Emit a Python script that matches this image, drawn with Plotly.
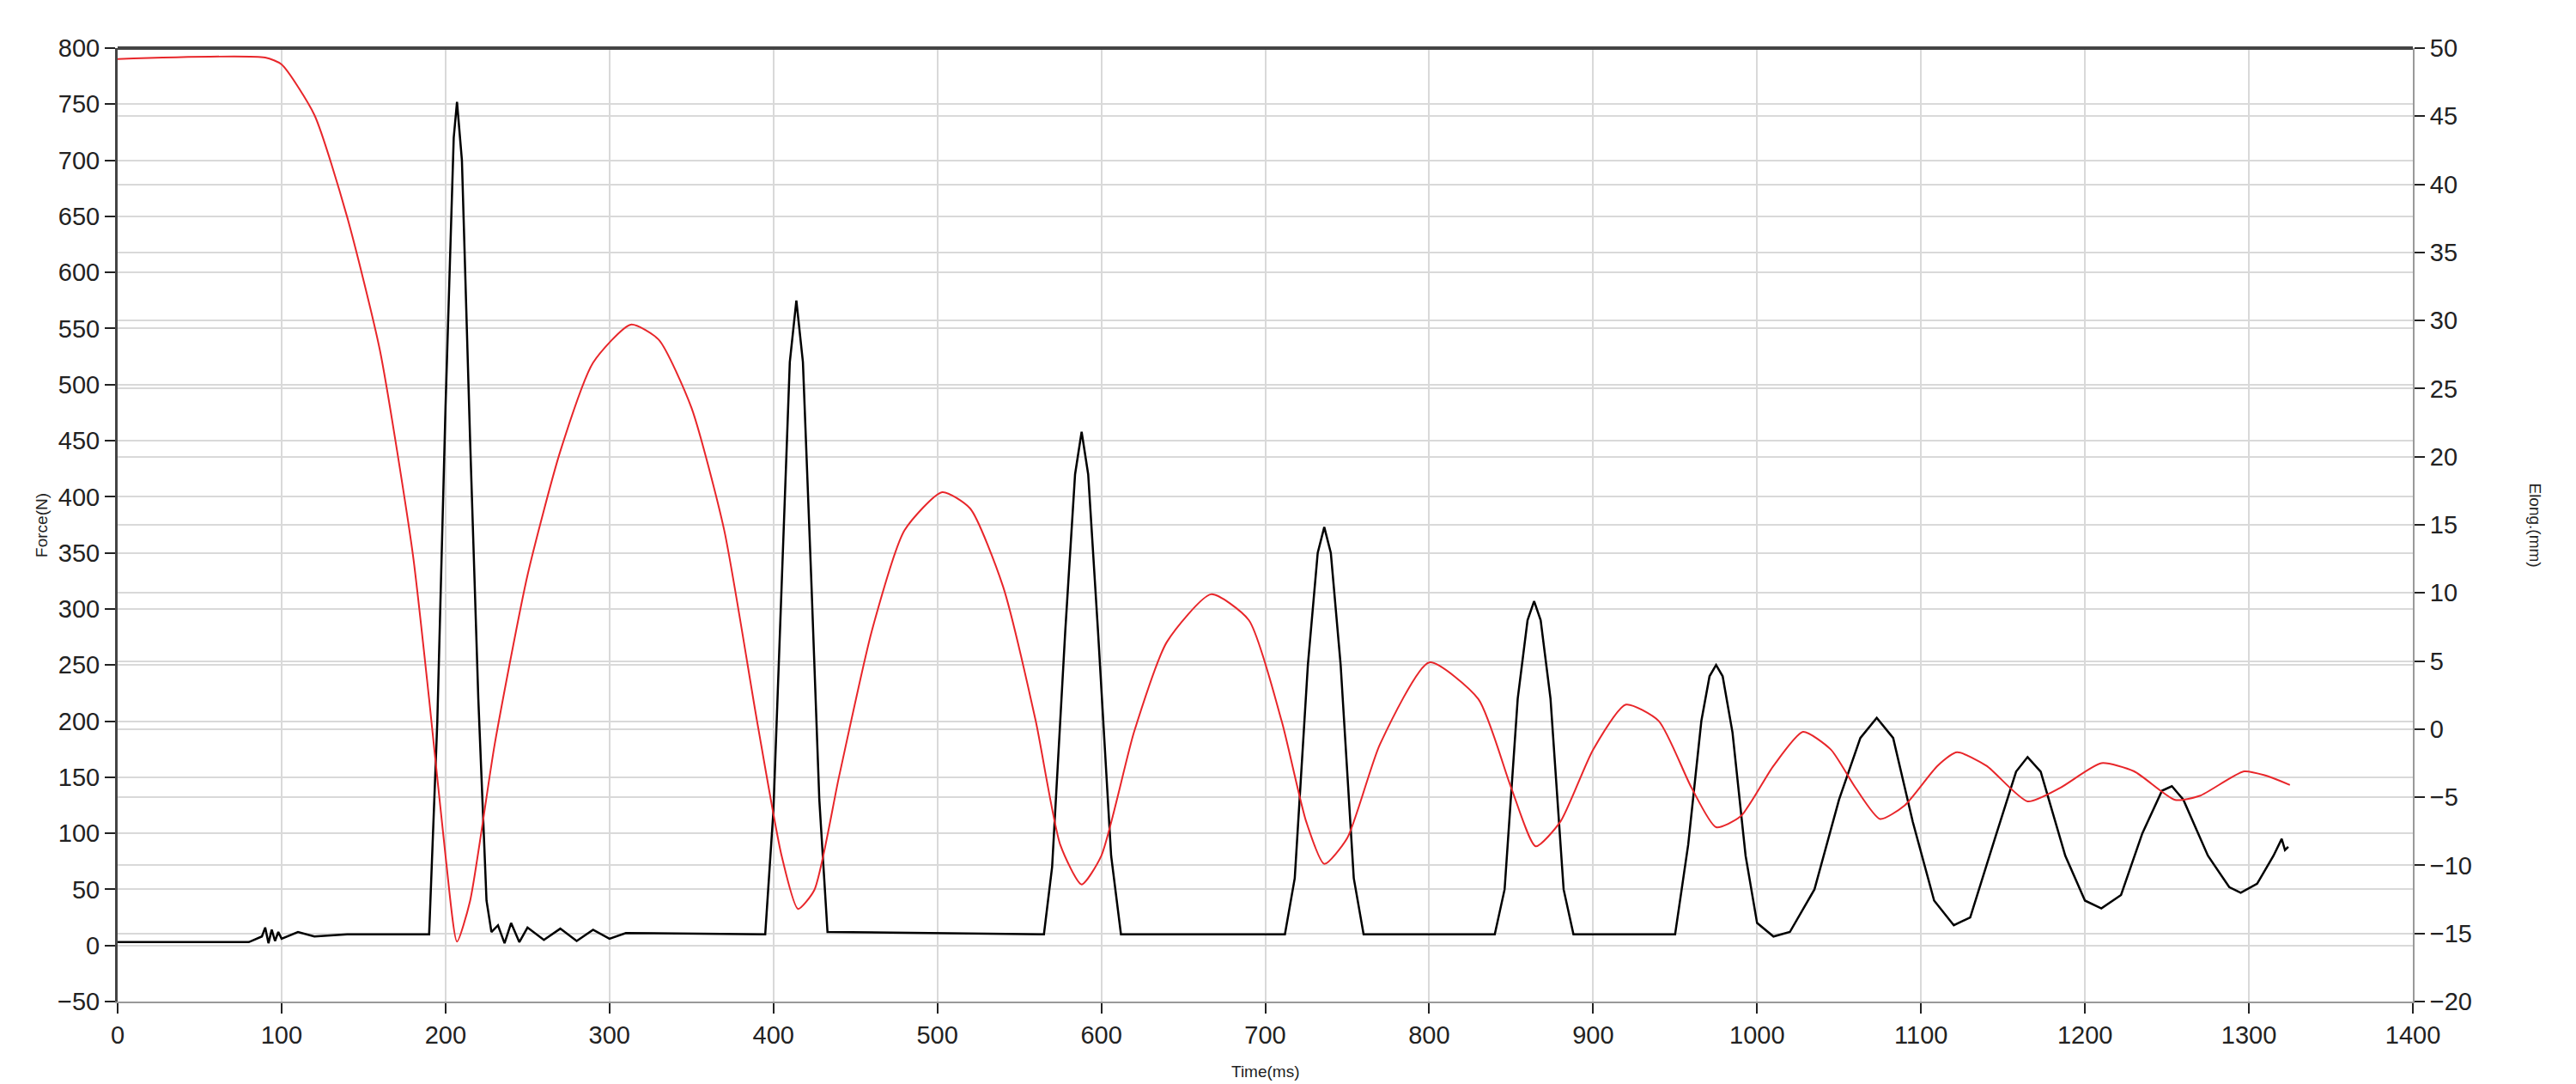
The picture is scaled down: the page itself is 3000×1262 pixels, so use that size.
import plotly.graph_objects as go

# black trace: force (N), left axis
force_t = [0, 80, 88, 90, 92, 94, 96, 98, 100, 110, 120, 140, 185, 190, 195, 200, 205, 207, 210, 215, 220, 225, 228,
           232, 236, 240, 245, 250, 260, 270, 280, 290, 300, 310, 395, 400, 405, 410, 414, 418, 423, 428, 433,
           565, 570, 578, 584, 588, 592, 598, 606, 612, 712, 718, 726, 732, 736, 740, 746, 754, 760,
           840, 846, 854, 860, 864, 868, 874, 882, 888, 950, 958, 966, 971, 975, 979, 985, 993, 1000, 1010,
           1020, 1035, 1050, 1063, 1073, 1083, 1095, 1108, 1120, 1130, 1145, 1158, 1165, 1173, 1188, 1200,
           1210, 1222, 1235, 1247, 1253, 1260, 1275, 1288, 1295, 1305, 1315, 1320, 1322, 1324]
force_v = [3, 3, 8, 16, 2, 14, 4, 12, 6, 12, 8, 10, 10, 10, 200, 480, 720, 752, 700, 450, 220, 40, 12,
           18, 2, 20, 3, 16, 5, 15, 4, 14, 6, 11, 10, 120, 320, 520, 575, 520, 330, 130, 12,
           10, 70, 280, 420, 458, 420, 280, 80, 10, 10, 60, 250, 350, 373, 350, 250, 60, 10,
           10, 50, 220, 290, 307, 290, 220, 50, 10, 10, 90, 200, 240, 250, 240, 190, 80, 20, 8,
           12, 50, 130, 185, 203, 185, 110, 40, 18, 25, 95, 155, 168, 155, 80, 40,
           33, 45, 100, 138, 142, 130, 80, 52, 47, 55, 80, 95, 85, 88]

# red trace: elongation (mm), right axis
elong_t = [0, 90, 100, 120, 140, 160, 180, 190, 200, 207, 215, 230, 250, 270, 290, 313, 330, 350, 370, 390, 405,
           415, 425, 440, 460, 480, 503, 520, 540, 560, 575, 588, 600, 620, 640, 667, 690, 710, 725, 736, 750,
           770, 800, 830, 850, 865, 880, 900, 920, 940, 960, 975, 990, 1010, 1028, 1045, 1060, 1075, 1090,
           1110, 1122, 1140, 1165, 1185, 1210, 1230, 1255, 1270, 1297, 1310, 1325]
elong_v = [49.2, 49.3, 48.8, 45.1, 37.6, 27.8, 12.9, 2.2, -9.3, -15.6, -12.6, -1.1, 11.3, 20.4, 26.9, 29.7, 28.6,
           23.6, 14.6, 0.6, -9.3, -13.2, -11.8, -3.5, 7.2, 14.6, 17.4, 16.2, 10.5, 0.6, -8.5, -11.4, -9.3, -0.2,
           6.4, 9.9, 8.0, 0.6, -6.8, -9.9, -8.0, -1.1, 4.9, 2.2, -4.3, -8.6, -6.8, -1.5, 1.8, 0.6, -4.3, -7.2,
           -6.4, -2.7, -0.2, -1.5, -4.3, -6.6, -5.6, -2.7, -1.7, -2.7, -5.3, -4.3, -2.5, -3.1, -5.2, -4.9,
           -3.1, -3.4, -4.1]

font = "Liberation Sans, Arial, sans-serif"
grid = "#d9d9d9"

fig = go.Figure()
fig.add_trace(go.Scatter(x=elong_t, y=elong_v, yaxis="y2", mode="lines",
                         line=dict(color="#e8262a", width=2, shape="spline", smoothing=0.6)))
fig.add_trace(go.Scatter(x=force_t, y=force_v, mode="lines", line=dict(color="black", width=2.5)))

fig.update_layout(
    width=3000, height=1262, showlegend=False,
    paper_bgcolor="white", plot_bgcolor="white",
    margin=dict(l=129, r=198, t=48, b=104),
    font=dict(family=font, size=29, color="#222"),
    xaxis=dict(range=[0, 1400], dtick=100, showgrid=True, gridcolor=grid, gridwidth=2,
               ticks="outside", ticklen=12, tickwidth=2, tickcolor="#222",
               showline=True, linecolor="#999", linewidth=2, zeroline=False),
    yaxis=dict(range=[-50, 800], dtick=50, showgrid=True, gridcolor=grid, gridwidth=2,
               ticks="outside", ticklen=12, tickwidth=2, tickcolor="#222",
               showline=True, linecolor="#444", linewidth=3, zeroline=False),
    yaxis2=dict(range=[-20, 50], dtick=5, overlaying="y", side="right", showgrid=True,
                gridcolor=grid, gridwidth=2, ticks="outside", ticklen=12, tickwidth=2, tickcolor="#222",
                showline=True, linecolor="#999", linewidth=2, zeroline=False),
    shapes=[dict(type="line", xref="paper", yref="paper", x0=0, x1=1, y0=1, y1=1,
                 line=dict(color="#444", width=4))],
    annotations=[
        dict(text="Force(N)", xref="paper", yref="paper", x=-0.038, y=0.5, showarrow=False,
             textangle=-90, font=dict(size=19)),
        dict(text="Elong.(mm)", xref="paper", yref="paper", x=1.058, y=0.5, showarrow=False,
             textangle=90, font=dict(size=19)),
        dict(text="Time(ms)", xref="paper", yref="paper", x=0.5, y=-0.062, yanchor="top",
             showarrow=False, font=dict(size=19)),
    ],
)

fig.write_html("out.html")
